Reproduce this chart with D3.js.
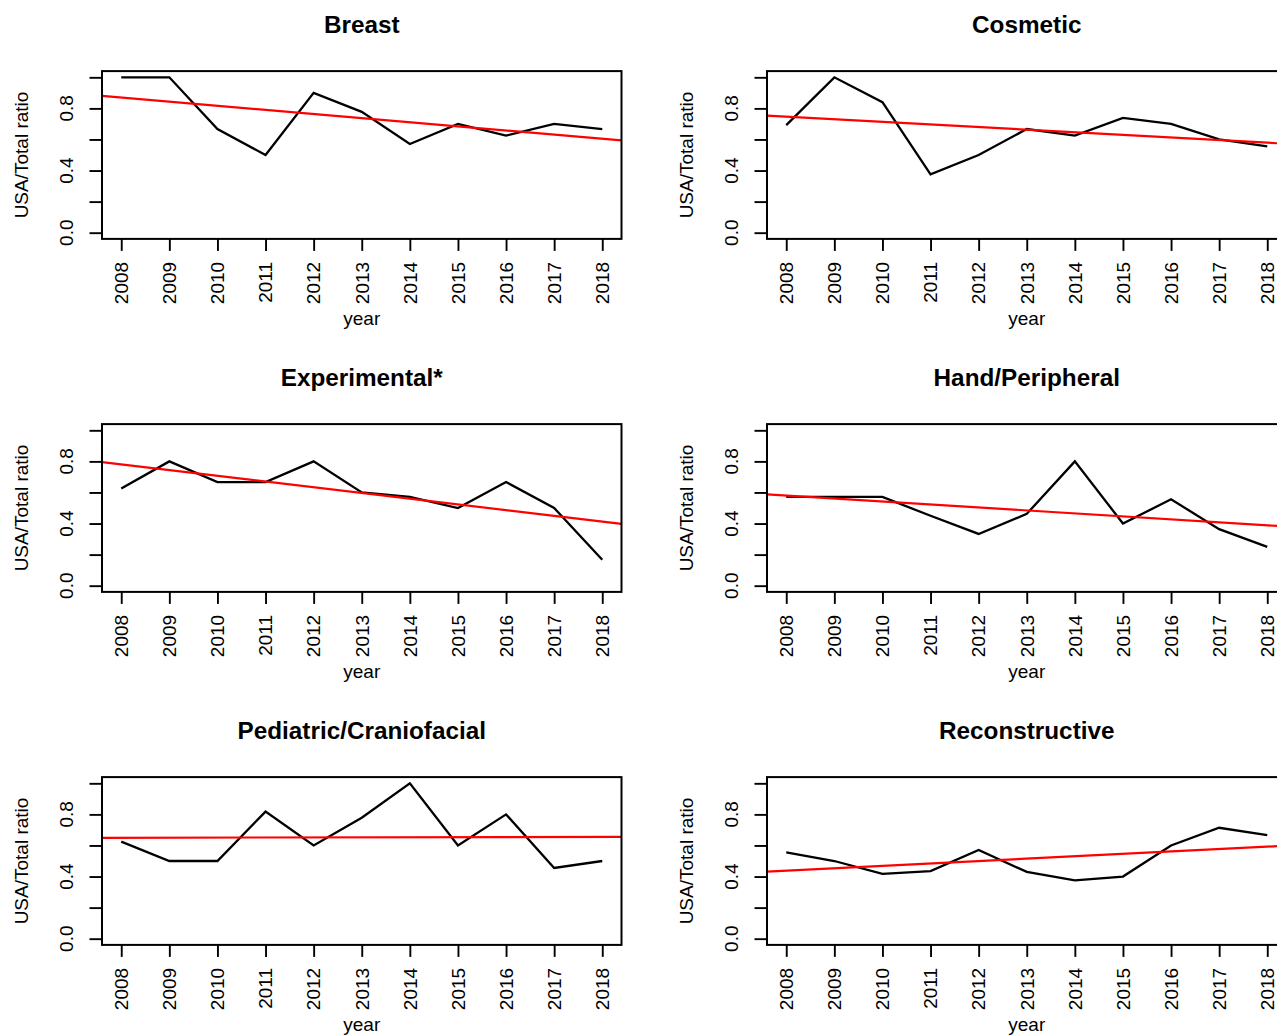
<!DOCTYPE html>
<html>
<head>
<meta charset="utf-8">
<script src="https://cdn.jsdelivr.net/npm/d3@7"></script>
<style>
  html, body { margin: 0; padding: 0; background: #fff; }
  svg { display: block; }
  text { font-family: "Liberation Sans", Arial, Helvetica, sans-serif; fill: #000; }
</style>
</head>
<body>
<svg id="chart" width="1277" height="1036"></svg>
<script>
// Years on the x axis
const years = [2008, 2009, 2010, 2011, 2012, 2013, 2014, 2015, 2016, 2017, 2018];

// USA/Total ratio per specialty, one value per year
const breast       = [1.000, 1.000, 0.667, 0.500, 0.900, 0.778, 0.571, 0.700, 0.625, 0.700, 0.667];
const cosmetic     = [0.692, 1.000, 0.840, 0.375, 0.500, 0.667, 0.625, 0.739, 0.700, 0.600, 0.556];
const experimental = [0.625, 0.800, 0.667, 0.667, 0.800, 0.600, 0.571, 0.500, 0.667, 0.500, 0.167];
const hand         = [0.571, 0.571, 0.571, 0.450, 0.333, 0.462, 0.800, 0.400, 0.556, 0.364, 0.250];
const pediatric    = [0.625, 0.500, 0.500, 0.818, 0.600, 0.778, 1.000, 0.600, 0.800, 0.455, 0.500];
const reconstructive = [0.556, 0.500, 0.417, 0.435, 0.571, 0.430, 0.375, 0.400, 0.600, 0.714, 0.667];

const panelTitles = ["Breast", "Cosmetic", "Experimental*", "Hand/Peripheral",
                     "Pediatric/Craniofacial", "Reconstructive"];
const panelSeries = [breast, cosmetic, experimental, hand, pediatric, reconstructive];

// y ticks: every 0.2, labelled only where the labels fit
const yTicks = [0.0, 0.2, 0.4, 0.6, 0.8, 1.0];
const yTickLabels = ["0.0", "", "0.4", "", "0.8", ""];

const xLabel = "year";
const yLabel = "USA/Total ratio";

// ---- layout ----
const svg = d3.select("#chart");
const colLeft = [102, 767];
const boxW = 519.5;
const rowTop = [71.1, 424.1, 777.1];
const boxH = 167.8;
const fontSize = 19;
const titleSize = 24.3;

// least-squares fit y = a + b*x
function linearFit(xs, ys) {
  const mx = d3.mean(xs), my = d3.mean(ys);
  let sxy = 0, sxx = 0;
  xs.forEach((x, i) => { sxy += (x - mx) * (ys[i] - my); sxx += (x - mx) * (x - mx); });
  const b = sxy / sxx;
  return { a: my - b * mx, b };
}

panelSeries.forEach((values, i) => {
  const col = i % 2, row = Math.floor(i / 2);
  const L = colLeft[col], T = rowTop[row];
  const R = L + boxW, B = T + boxH;

  // R-style 4% padding around the data range
  const x = d3.scaleLinear().domain([2007.6, 2018.4]).range([L, R]);
  const y = d3.scaleLinear().domain([-0.04, 1.04]).range([B, T]);

  const g = svg.append("g");

  // title
  g.append("text")
    .attr("x", (L + R) / 2).attr("y", T - 38)
    .attr("text-anchor", "middle")
    .style("font-size", titleSize + "px").style("font-weight", "bold")
    .text(panelTitles[i]);

  // x axis ticks
  const xAxis = d3.axisBottom(x).tickValues(years).tickSize(12).tickSizeOuter(0).tickFormat("");
  const gx = g.append("g").attr("transform", `translate(0,${B})`).call(xAxis);
  gx.select(".domain").remove();
  gx.selectAll(".tick line").attr("stroke", "#000").attr("stroke-width", 1.9);

  // x tick labels, vertical
  g.selectAll(null).data(years).enter().append("text")
    .attr("transform", d => `translate(${x(d) + 6.8},${B + 23}) rotate(-90)`)
    .attr("text-anchor", "end")
    .style("font-size", fontSize + "px")
    .text(d => String(d));

  // y axis ticks
  const yAxis = d3.axisLeft(y).tickValues(yTicks).tickSize(12.5).tickSizeOuter(0).tickFormat("");
  const gy = g.append("g").attr("transform", `translate(${L},0)`).call(yAxis);
  gy.select(".domain").remove();
  gy.selectAll(".tick line").attr("stroke", "#000").attr("stroke-width", 1.9);
  g.append("line")
    .attr("x1", L).attr("x2", L).attr("y1", y(0)).attr("y2", y(1))
    .attr("stroke", "#000").attr("stroke-width", 1.9);

  // y tick labels, parallel to the axis
  g.selectAll(null).data(yTicks.map((v, k) => ({ v, label: yTickLabels[k] })).filter(d => d.label))
    .enter().append("text")
    .attr("transform", d => `translate(${L - 29},${y(d.v)}) rotate(-90)`)
    .attr("text-anchor", "middle")
    .style("font-size", fontSize + "px")
    .text(d => d.label);

  // axis titles
  g.append("text")
    .attr("x", (L + R) / 2).attr("y", B + 86)
    .attr("text-anchor", "middle")
    .style("font-size", fontSize + "px")
    .text(xLabel);
  g.append("text")
    .attr("transform", `translate(${L - 74.5},${(T + B) / 2}) rotate(-90)`)
    .attr("text-anchor", "middle")
    .style("font-size", fontSize + "px")
    .text(yLabel);

  // clip for the fitted line
  const clipId = "clip" + i;
  svg.append("clipPath").attr("id", clipId)
    .append("rect").attr("x", L).attr("y", T).attr("width", boxW).attr("height", boxH);

  // ratio series
  const line = d3.line().x(d => x(d[0])).y(d => y(d[1]));
  g.append("path")
    .datum(years.map((yr, k) => [yr, values[k]]))
    .attr("d", line)
    .attr("fill", "none").attr("stroke", "#000").attr("stroke-width", 2.3)
    .attr("stroke-linejoin", "miter");

  // linear trend across the plot region
  const fit = linearFit(years, values);
  const [d0, d1] = x.domain();
  g.append("path")
    .datum([[d0, fit.a + fit.b * d0], [d1, fit.a + fit.b * d1]])
    .attr("d", line)
    .attr("clip-path", `url(#${clipId})`)
    .attr("fill", "none").attr("stroke", "#ff0000").attr("stroke-width", 2.2);

  // plot box
  g.append("rect")
    .attr("x", L).attr("y", T).attr("width", boxW).attr("height", boxH)
    .attr("fill", "none").attr("stroke", "#000").attr("stroke-width", 2);
});
</script>
</body>
</html>
